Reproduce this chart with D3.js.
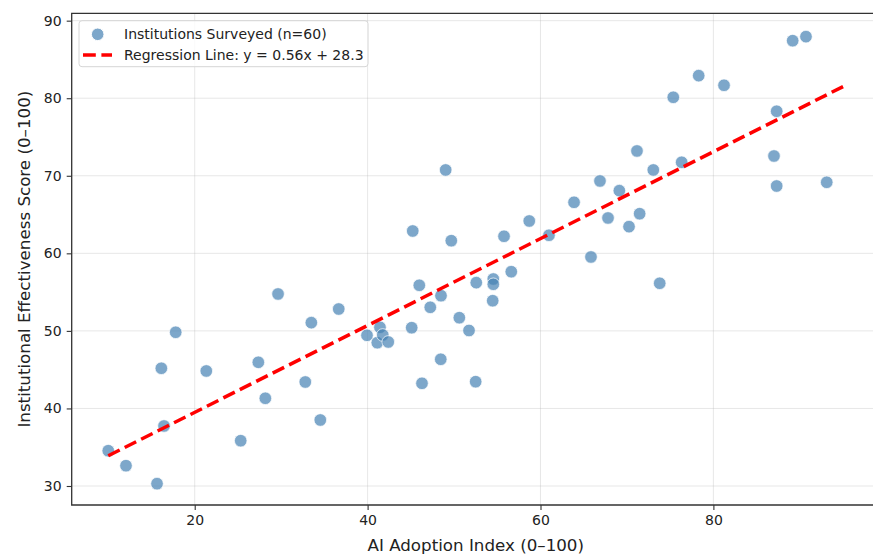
<!DOCTYPE html>
<html>
<head>
<meta charset="utf-8">
<script src="https://cdn.jsdelivr.net/npm/d3@7"></script>
<style>
  body { margin: 0; background: #fff; }
  svg { display: block; font-family: "DejaVu Sans", sans-serif; }
</style>
</head>
<body>
<div id="chart"></div>
<script>
// adoption index (x) and effectiveness score (y), one entry per institution
const adoption = [10.0, 12.05, 15.64, 16.14, 16.45, 17.8, 21.34, 25.32, 27.36, 28.17,
  29.64, 32.79, 33.49, 34.53, 36.66, 39.93, 41.12, 41.43, 41.75, 42.39,
  45.1, 45.22, 45.98, 46.29, 47.25, 48.46, 48.49, 49.03, 49.68, 50.61,
  51.73, 52.5, 52.57, 54.54, 54.54, 54.47, 55.78, 56.62, 58.7, 60.98,
  63.88, 65.84, 66.88, 67.81, 69.12, 70.24, 71.16, 71.47, 73.05, 73.79,
  75.36, 76.33, 78.3, 81.23, 87.32, 87.01, 87.32, 89.17, 90.71, 93.11];
const effectiveness = [34.55, 32.62, 30.3, 45.18, 37.74, 49.82, 44.83, 35.84, 45.95, 41.31,
  54.76, 43.41, 51.06, 38.51, 52.82, 49.43, 48.48, 50.46, 49.47, 48.57,
  50.41, 62.88, 55.88, 43.24, 53.04, 46.34, 54.54, 70.75, 61.63, 51.7,
  50.05, 43.45, 56.22, 56.69, 56.01, 53.89, 62.2, 57.63, 64.17, 62.33,
  66.58, 59.53, 69.33, 64.56, 68.08, 63.44, 73.2, 65.11, 70.75, 56.14,
  80.12, 71.74, 82.91, 81.67, 78.32, 72.55, 68.68, 87.42, 87.94, 69.16];

const slope = 0.56;
const intercept = 28.3;
const lineRange = [10, 95];

const xTicks = [20, 40, 60, 80];
const yTicks = [30, 40, 50, 60, 70, 80, 90];

const W = 873, H = 557;
const plotL = 71.7, plotT = 13.3, plotB = 505, plotR = 879.8;

const svg = d3.select("#chart").append("svg")
  .attr("width", W)
  .attr("height", H);

let x = d3.scaleLinear().domain([5.77, 99.25]).range([plotL, plotR]);
let y = d3.scaleLinear().domain([27.55, 90.95]).range([plotB, plotT]);

let data = adoption.map((a, i) => ({ x: a, y: effectiveness[i] }));

// grid
svg.append("g").selectAll("line").data(xTicks).enter().append("line")
  .attr("x1", d => x(d)).attr("x2", d => x(d))
  .attr("y1", plotT).attr("y2", plotB)
  .attr("stroke", "#b0b0b0").attr("stroke-opacity", 0.3).attr("stroke-width", 1);

svg.append("g").selectAll("line").data(yTicks).enter().append("line")
  .attr("x1", plotL).attr("x2", plotR)
  .attr("y1", d => y(d)).attr("y2", d => y(d))
  .attr("stroke", "#b0b0b0").attr("stroke-opacity", 0.3).attr("stroke-width", 1);

// points
svg.append("g").selectAll("circle").data(data).enter().append("circle")
  .attr("cx", d => x(d.x))
  .attr("cy", d => y(d.y))
  .attr("r", 6.3)
  .attr("fill", "steelblue")
  .attr("fill-opacity", 0.7)
  .attr("stroke", "#fff")
  .attr("stroke-opacity", 0.7)
  .attr("stroke-width", 1);

// regression line
svg.append("line")
  .attr("x1", x(lineRange[0])).attr("y1", y(slope * lineRange[0] + intercept))
  .attr("x2", x(lineRange[1])).attr("y2", y(slope * lineRange[1] + intercept))
  .attr("stroke", "#ff0000")
  .attr("stroke-width", 3.5)
  .attr("stroke-dasharray", "12.8,5.6");

// axes
let xAxis = svg.append("g")
  .attr("transform", `translate(0,${plotB})`)
  .call(d3.axisBottom(x).tickValues(xTicks).tickSize(5).tickPadding(5).tickFormat(d3.format("d")));
let yAxis = svg.append("g")
  .attr("transform", `translate(${plotL},0)`)
  .call(d3.axisLeft(y).tickValues(yTicks).tickSize(5).tickPadding(5).tickFormat(d3.format("d")));

[xAxis, yAxis].forEach(g => {
  g.select(".domain").remove();
  g.selectAll(".tick line").attr("stroke", "#333").attr("stroke-width", 1.1);
  g.selectAll(".tick text")
    .attr("fill", "#222")
    .attr("font-size", "14px")
    .attr("font-family", "DejaVu Sans, sans-serif");
});

// spines (left, bottom, top)
svg.append("path")
  .attr("d", `M${plotR},${plotT}H${plotL}V${plotB}H${plotR}`)
  .attr("fill", "none")
  .attr("stroke", "#333")
  .attr("stroke-width", 1.3);

// axis labels
svg.append("text")
  .attr("x", (plotL + plotR) / 2)
  .attr("y", 551)
  .attr("text-anchor", "middle")
  .attr("font-size", "16.7px")
  .attr("fill", "#222")
  .text("AI Adoption Index (0–100)");

svg.append("text")
  .attr("transform", `translate(30,${(plotT + plotB) / 2}) rotate(-90)`)
  .attr("text-anchor", "middle")
  .attr("font-size", "16.7px")
  .attr("fill", "#222")
  .text("Institutional Effectiveness Score (0–100)");

// legend
let legend = svg.append("g");
legend.append("rect")
  .attr("x", 79).attr("y", 20.7)
  .attr("width", 289).attr("height", 46)
  .attr("rx", 3)
  .attr("fill", "#fff").attr("fill-opacity", 0.8)
  .attr("stroke", "#d6d6d6").attr("stroke-width", 1);

legend.append("circle")
  .attr("cx", 97.7).attr("cy", 34.3).attr("r", 6.3)
  .attr("fill", "steelblue").attr("fill-opacity", 0.7)
  .attr("stroke", "#fff").attr("stroke-width", 1);

legend.append("line")
  .attr("x1", 83).attr("x2", 112)
  .attr("y1", 55).attr("y2", 55)
  .attr("stroke", "#ff0000").attr("stroke-width", 3.5)
  .attr("stroke-dasharray", "12.8,5.6");

legend.append("text")
  .attr("x", 124).attr("y", 39)
  .attr("font-size", "14px").attr("fill", "#222")
  .text("Institutions Surveyed (n=60)");

legend.append("text")
  .attr("x", 124).attr("y", 60)
  .attr("font-size", "14px").attr("fill", "#222")
  .text("Regression Line: y = 0.56x + 28.3");
</script>
</body>
</html>
